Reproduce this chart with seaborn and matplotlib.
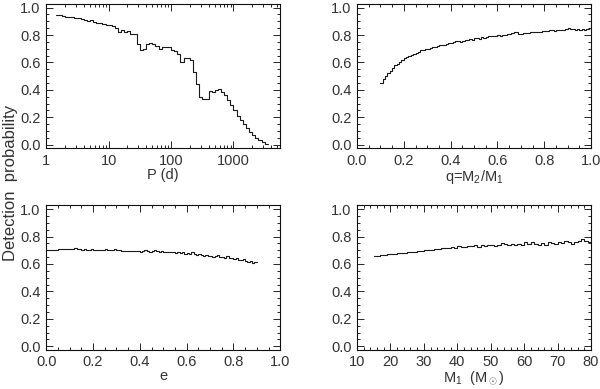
import numpy as np
import pandas as pd
import matplotlib
matplotlib.use("Agg")
import matplotlib.pyplot as plt
from matplotlib.ticker import MultipleLocator, LogLocator, FixedLocator, FixedFormatter, NullFormatter
import seaborn as sns

# ---- data: detection probability per bin ----
# period: log10(P) bins of 0.05 dex starting at log10(P) = 0.15
logp_start, logp_step = 0.15, 0.05
prob_p = [0.945, 0.943, 0.940, 0.935, 0.932, 0.928, 0.925, 0.922, 0.918, 0.910,
          0.905, 0.910, 0.895, 0.890, 0.885, 0.880, 0.876, 0.870, 0.865, 0.855,
          0.820, 0.835, 0.820, 0.830, 0.810, 0.805, 0.735, 0.690, 0.700, 0.735,
          0.745, 0.735, 0.720, 0.700, 0.715, 0.710, 0.715, 0.690, 0.685, 0.665,
          0.600, 0.630, 0.630, 0.620, 0.530, 0.440, 0.350, 0.335, 0.335, 0.390,
          0.385, 0.400, 0.405, 0.385, 0.360, 0.325, 0.290, 0.255, 0.210, 0.180,
          0.150, 0.120, 0.090, 0.070, 0.050, 0.035, 0.020, 0.008]

# mass ratio: bins of 0.01 starting at q = 0.10
q_start, q_step = 0.10, 0.01
prob_q = [0.450, 0.480, 0.500, 0.520, 0.540, 0.560, 0.580, 0.590, 0.600, 0.620,
          0.630, 0.640, 0.650, 0.655, 0.665, 0.670, 0.680, 0.690, 0.690, 0.700,
          0.700, 0.705, 0.710, 0.715, 0.720, 0.725, 0.730, 0.730, 0.735, 0.740,
          0.745, 0.750, 0.755, 0.755, 0.750, 0.760, 0.765, 0.765, 0.770, 0.765,
          0.775, 0.780, 0.770, 0.785, 0.780, 0.785, 0.790, 0.790, 0.795, 0.795,
          0.800, 0.795, 0.800, 0.800, 0.805, 0.810, 0.815, 0.820, 0.820, 0.810,
          0.810, 0.815, 0.815, 0.815, 0.820, 0.820, 0.820, 0.825, 0.825, 0.830,
          0.830, 0.830, 0.835, 0.835, 0.830, 0.835, 0.840, 0.835, 0.840, 0.845,
          0.850, 0.845, 0.845, 0.840, 0.845, 0.840, 0.845, 0.840, 0.845, 0.850]

# eccentricity: bins of 0.01 starting at e = 0.00
e_start, e_step = 0.00, 0.01
prob_e = [0.700, 0.702, 0.703, 0.705, 0.705, 0.706, 0.707, 0.708, 0.707, 0.708,
          0.708, 0.707, 0.714, 0.706, 0.707, 0.702, 0.708, 0.705, 0.700, 0.706,
          0.703, 0.705, 0.700, 0.704, 0.702, 0.706, 0.700, 0.704, 0.705, 0.712,
          0.700, 0.703, 0.695, 0.697, 0.694, 0.697, 0.692, 0.698, 0.693, 0.695,
          0.690, 0.693, 0.700, 0.692, 0.689, 0.694, 0.705, 0.696, 0.690, 0.694,
          0.688, 0.690, 0.684, 0.690, 0.686, 0.682, 0.688, 0.680, 0.684, 0.676,
          0.680, 0.672, 0.688, 0.672, 0.664, 0.670, 0.664, 0.660, 0.664, 0.655,
          0.660, 0.652, 0.657, 0.664, 0.648, 0.650, 0.642, 0.655, 0.640, 0.645,
          0.636, 0.640, 0.632, 0.630, 0.634, 0.622, 0.616, 0.620, 0.610, 0.616]

# primary mass: bins of 1 Msun starting at M1 = 15
m_start, m_step = 15.0, 1.0
prob_m = [0.660, 0.658, 0.665, 0.668, 0.672, 0.675, 0.674, 0.678, 0.681, 0.683,
          0.686, 0.688, 0.690, 0.692, 0.695, 0.700, 0.705, 0.703, 0.708, 0.712,
          0.714, 0.713, 0.718, 0.722, 0.716, 0.728, 0.722, 0.726, 0.730, 0.728,
          0.735, 0.725, 0.740, 0.732, 0.742, 0.736, 0.728, 0.740, 0.752, 0.745,
          0.738, 0.748, 0.735, 0.745, 0.736, 0.758, 0.748, 0.760, 0.745, 0.736,
          0.752, 0.742, 0.758, 0.750, 0.745, 0.762, 0.752, 0.768, 0.760, 0.745,
          0.762, 0.770, 0.782, 0.765, 0.758]


def steps_frame(start, step, vals, log=False):
    # left bin edges + closing edge, last value repeated for steps-post
    edges = start + step * np.arange(len(vals) + 1)
    if log:
        edges = 10 ** edges
    return pd.DataFrame({"x": edges, "y": list(vals) + [vals[-1]]})


sns.set_style("ticks")
plt.rcParams["font.family"] = ["Liberation Sans", "DejaVu Sans"]
plt.rcParams["mathtext.fontset"] = "custom"
plt.rcParams["mathtext.rm"] = "Liberation Sans"
plt.rcParams["mathtext.it"] = "Liberation Sans"

txt = "#333333"
fs = 10.5
fig = plt.figure(figsize=(6.0, 3.89), dpi=100)
w, h = 0.39, 0.372
ax_p = fig.add_axes([0.077, 0.619, w, h])
ax_q = fig.add_axes([0.595, 0.619, w, h])
ax_e = fig.add_axes([0.077, 0.101, w, h])
ax_m = fig.add_axes([0.595, 0.101, w, h])

panels = [
    (ax_p, steps_frame(logp_start, logp_step, prob_p, log=True), "P (d)"),
    (ax_q, steps_frame(q_start, q_step, prob_q), r"q=M$_2$/M$_1$"),
    (ax_e, steps_frame(e_start, e_step, prob_e), "e"),
    (ax_m, steps_frame(m_start, m_step, prob_m), r"M$_1$  (M$_\odot$)"),
]

for ax, df, lab in panels:
    sns.lineplot(data=df, x="x", y="y", ax=ax, drawstyle="steps-post",
                 color="#1a1a1a", linewidth=0.8)
    ax.set_ylim(-0.025, 1.03)
    ax.yaxis.set_major_locator(MultipleLocator(0.2))
    ax.yaxis.set_minor_locator(MultipleLocator(0.05))
    ax.yaxis.set_major_formatter(plt.FuncFormatter(lambda v, _: f"{v:.1f}"))
    ax.set_xlabel(lab, fontsize=fs, color=txt, labelpad=0)
    ax.set_ylabel("")
    ax.tick_params(which="both", direction="in", top=True, right=True,
                   labelsize=fs, labelcolor=txt, width=0.7, pad=4)
    ax.tick_params(which="major", length=5)
    ax.tick_params(which="minor", length=2.5)
    for s in ax.spines.values():
        s.set_linewidth(0.8)
        s.set_color("#111111")

ax_p.set_xscale("log")
ax_p.set_xlim(1, 5600)
ax_p.xaxis.set_major_locator(FixedLocator([1, 10, 100, 1000]))
ax_p.xaxis.set_major_formatter(FixedFormatter(["1", "10", "100", "1000"]))
ax_p.xaxis.set_minor_locator(LogLocator(base=10, subs=np.arange(2, 10)))
ax_p.xaxis.set_minor_formatter(NullFormatter())

for ax in (ax_q, ax_e):
    ax.set_xlim(0, 1)
    ax.xaxis.set_major_locator(MultipleLocator(0.2))
    ax.xaxis.set_minor_locator(MultipleLocator(0.05))
    ax.xaxis.set_major_formatter(plt.FuncFormatter(lambda v, _: f"{v:.1f}"))

ax_m.set_xlim(10, 80)
ax_m.xaxis.set_major_locator(MultipleLocator(10))
ax_m.xaxis.set_minor_locator(MultipleLocator(2))

fig.text(0.018, 0.53, "Detection  probability", rotation=90, fontsize=12,
         color=txt, ha="center", va="center")

fig.savefig("out.png", dpi=100)
